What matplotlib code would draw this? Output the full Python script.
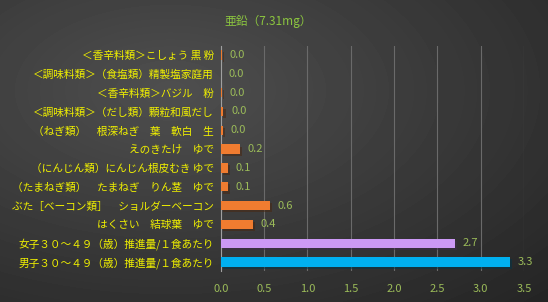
import matplotlib.pyplot as plt
import matplotlib.patheffects as pe
import numpy as np

plt.rcParams['font.family'] = ['Noto Sans CJK JP', 'DejaVu Sans']

# データ（上から順）
labels = [
    "＜香辛料類＞こしょう 黒 粉",
    "＜調味料類＞（食塩類）精製塩家庭用",
    "＜香辛料類＞バジル　粉",
    "＜調味料類＞（だし類）顆粒和風だし",
    "（ねぎ類）　根深ねぎ　葉　軟白　生",
    "えのきたけ　ゆで",
    "（にんじん類）にんじん根皮むき ゆで",
    "（たまねぎ類）　たまねぎ　りん茎　ゆで",
    "ぶた［ベーコン類］　ショルダーベーコン",
    "はくさい　結球葉　ゆで",
    "女子３０～４９（歳）推進量/１食あたり",
    "男子３０～４９（歳）推進量/１食あたり",
]
values = [0.01, 0.0, 0.01, 0.03, 0.02, 0.22, 0.08, 0.08, 0.57, 0.37, 2.70, 3.34]
colors = ["#F07C30"] * 10 + ["#CC99F5", "#00B0F0"]
title = "亜鉛（7.31mg）"

fig = plt.figure(figsize=(5.48, 3.02), dpi=100)

# 背景のグラデーション
bg = fig.add_axes([0, 0, 1, 1])
yy, xx = np.mgrid[0:302, 0:548]
d = np.sqrt(((xx - 170) / 548) ** 2 + ((yy - 90) / 302) ** 2)
shade = 0.31 - 0.17 * np.clip(d / 1.0, 0, 1)
bg.imshow(shade, cmap="gray", vmin=0, vmax=1, aspect="auto")
bg.axis("off")

ax = fig.add_axes([0.403, 0.101, 0.553, 0.748])
ax.patch.set_alpha(0)
y = np.arange(len(labels))
bars = ax.barh(y, values, height=0.5, color=colors, zorder=3)
for b in bars:
    b.set_path_effects([pe.SimplePatchShadow(offset=(1.5, -1.5), alpha=0.5), pe.Normal()])

for yi, v in zip(y, values):
    ax.text(v + 0.09, yi, f"{v:.1f}", va="center", ha="left", color="#9BBB59", fontsize=8)

ax.set_ylim(len(labels) - 0.5, -0.5)
ax.set_xlim(0, 3.5)
ax.set_xticks(np.arange(0, 3.51, 0.5))
ax.set_xticklabels([f"{t:.1f}" for t in np.arange(0, 3.51, 0.5)])
ax.set_yticks(y)
ax.set_yticklabels(labels)
ax.tick_params(axis="x", colors="#9BBB59", labelsize=8, length=0, pad=9)
ax.tick_params(axis="y", colors="#F0F000", labelsize=7.7, length=0, pad=5)
ax.grid(axis="x", color="#6a6a6a", linewidth=0.8, zorder=0)
for s in ["top", "right", "bottom"]:
    ax.spines[s].set_visible(False)
ax.spines["left"].set_color("#a0a0a0")
ax.spines["left"].set_linewidth(0.8)

fig.text(0.49, 0.93, title, color="#8CC63F", fontsize=8.5, ha="center", va="center")

fig.savefig("out.png", dpi=100)
